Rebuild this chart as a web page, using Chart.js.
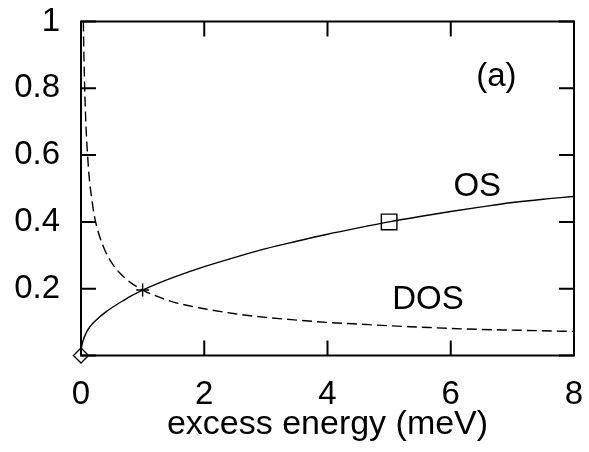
<!DOCTYPE html>
<html>
<head>
<meta charset="utf-8">
<script src="https://cdn.jsdelivr.net/npm/chart.js@4.4.1/dist/chart.umd.min.js"></script>
<style>
html,body{margin:0;padding:0;background:#fff;}
canvas{display:block;}
</style>
</head>
<body>
<canvas id="c" width="589" height="452"></canvas>
<script>
const osX  = [0, 0.002, 0.005, 0.01, 0.02, 0.04, 0.06, 0.08, 0.1, 0.15, 0.2, 0.3, 0.4, 0.5, 0.6, 0.7, 0.8, 0.9, 1, 1.25, 1.5, 2, 2.5, 3, 3.5, 4, 4.5, 5, 5.5, 6, 6.5, 7, 7.5, 8];
const osY  = [0, 0.012, 0.019, 0.026, 0.036, 0.048, 0.058, 0.066, 0.074, 0.087, 0.098, 0.115, 0.13, 0.143, 0.155, 0.166, 0.177, 0.187, 0.196, 0.216, 0.234, 0.266, 0.294, 0.32, 0.342, 0.363, 0.382, 0.4, 0.416, 0.431, 0.445, 0.458, 0.468, 0.476];
const dosX = [0.038, 0.045, 0.06, 0.08, 0.1, 0.13, 0.17, 0.22, 0.3, 0.4, 0.5, 0.63, 0.8, 1, 1.25, 1.5, 2, 2.5, 3, 3.5, 4, 4.5, 5, 5.5, 6, 6.5, 7, 7.5, 8];
const dosY = [1.0, 0.92, 0.8, 0.69, 0.62, 0.54, 0.475, 0.415, 0.358, 0.31, 0.277, 0.247, 0.219, 0.196, 0.176, 0.16, 0.14, 0.125, 0.114, 0.106, 0.099, 0.094, 0.089, 0.085, 0.081, 0.078, 0.076, 0.074, 0.072];
const diamondPt = [0, 0];
const plusPt    = [1, 0.196];
const squarePt  = [5, 0.4];
const xTicks = [0, 2, 4, 6, 8];
const xTickLabels = ['0', '2', '4', '6', '8'];
const yTicks = [0, 0.2, 0.4, 0.6, 0.8, 1];
const yTickLabels = ['', '0.2', '0.4', '0.6', '0.8', '1'];
const annotations = [
  {text: '(a)', x: 6.74, y: 0.835},
  {text: 'OS', x: 6.43, y: 0.506},
  {text: 'DOS', x: 5.63, y: 0.165}
];
const xTitle = 'excess energy (meV)';

const FONT = '"Liberation Sans", Arial, Helvetica, sans-serif';
const FS = 33;

const toPts = (xs, ys) => xs.map((x, i) => ({x: x, y: ys[i]}));

const framePlugin = {
  id: 'frame',
  afterDatasetsDraw(chart) {
    const {ctx, chartArea: a, scales} = chart;
    const xs = scales.x, ys = scales.y;
    ctx.save();
    ctx.strokeStyle = '#000';
    ctx.lineWidth = 2;
    ctx.strokeRect(a.left, a.top, a.right - a.left, a.bottom - a.top);
    const tl = 15;
    ctx.beginPath();
    xTicks.forEach(v => {
      const px = xs.getPixelForValue(v);
      ctx.moveTo(px, a.bottom); ctx.lineTo(px, a.bottom - tl);
      ctx.moveTo(px, a.top); ctx.lineTo(px, a.top + tl);
    });
    yTicks.forEach(v => {
      const py = ys.getPixelForValue(v);
      ctx.moveTo(a.left, py); ctx.lineTo(a.left + tl, py);
      ctx.moveTo(a.right, py); ctx.lineTo(a.right - tl, py);
    });
    ctx.stroke();
    ctx.fillStyle = '#000';
    ctx.font = FS + 'px ' + FONT;
    ctx.textAlign = 'center';
    ctx.textBaseline = 'middle';
    annotations.forEach(t => {
      ctx.fillText(t.text, xs.getPixelForValue(t.x), ys.getPixelForValue(t.y));
    });
    ctx.restore();
  }
};

new Chart(document.getElementById('c'), {
  type: 'scatter',
  data: {
    datasets: [
      {
        data: toPts(osX, osY), showLine: true, borderColor: '#000', borderWidth: 1.4,
        pointRadius: 0, cubicInterpolationMode: 'monotone', fill: false
      },
      {
        data: toPts(dosX, dosY), showLine: true, borderColor: '#000', borderWidth: 1.4,
        borderDash: [10, 5], pointRadius: 0, cubicInterpolationMode: 'monotone', fill: false
      },
      {
        data: [{x: diamondPt[0], y: diamondPt[1]}], pointStyle: 'rectRot', pointRadius: 7.5,
        borderColor: '#000', backgroundColor: 'rgba(0,0,0,0)', borderWidth: 1.4, clip: false
      },
      {
        data: [{x: plusPt[0], y: plusPt[1]}], pointStyle: 'cross', pointRadius: 6.5,
        borderColor: '#000', borderWidth: 1.4, clip: false
      },
      {
        data: [{x: squarePt[0], y: squarePt[1]}], pointStyle: 'rect', pointRadius: 11,
        borderColor: '#000', backgroundColor: 'rgba(0,0,0,0)', borderWidth: 1.4, clip: false
      }
    ]
  },
  options: {
    responsive: false,
    animation: false,
    devicePixelRatio: 1,
    layout: {padding: {top: 21.5, right: 15, bottom: 0, left: 0}},
    plugins: {legend: {display: false}, tooltip: {enabled: false}},
    scales: {
      x: {
        type: 'linear', min: 0, max: 8,
        grid: {display: false, drawTicks: false}, border: {display: false},
        afterBuildTicks: s => { s.ticks = xTicks.map(v => ({value: v})); },
        afterFit: s => { s.height = 96.5; s.paddingLeft = 0; s.paddingRight = 0; },
        ticks: {
          color: '#000', padding: 20, maxRotation: 0, autoSkip: false,
          font: {family: FONT, size: FS, lineHeight: 1.2},
          callback: (v, i) => xTickLabels[i]
        },
        title: {
          display: true, text: xTitle, color: '#000',
          font: {family: FONT, size: 34, lineHeight: 1},
          padding: {top: 0, bottom: 10}
        }
      },
      y: {
        type: 'linear', min: 0, max: 1,
        grid: {display: false, drawTicks: false}, border: {display: false},
        afterBuildTicks: s => { s.ticks = yTicks.map(v => ({value: v})); },
        afterFit: s => { s.width = 81; s.paddingTop = 0; s.paddingBottom = 0; },
        ticks: {
          color: '#000', padding: 21, autoSkip: false,
          font: {family: FONT, size: FS},
          callback: (v, i) => yTickLabels[i]
        }
      }
    }
  },
  plugins: [framePlugin]
});
</script>
</body>
</html>
